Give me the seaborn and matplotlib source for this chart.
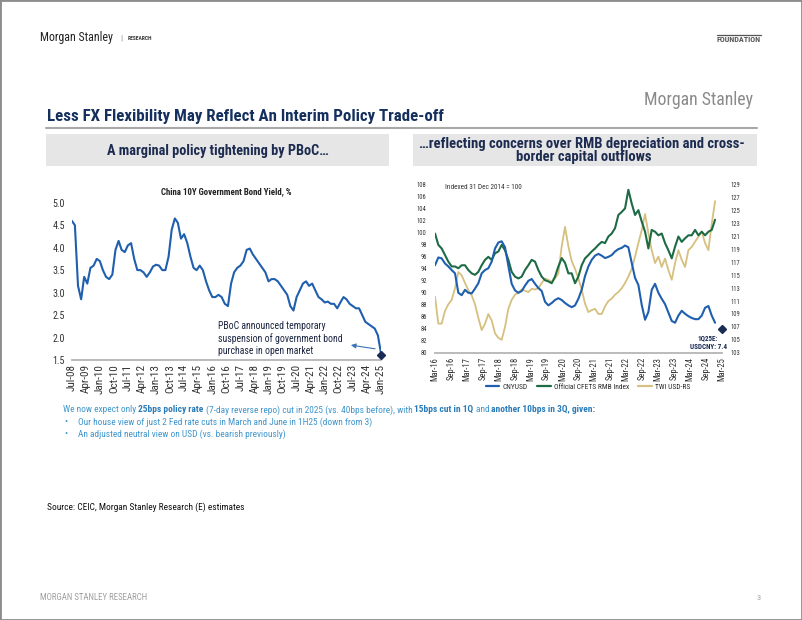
import pandas as pd
import numpy as np
import matplotlib.pyplot as plt
from matplotlib import font_manager
from matplotlib.lines import Line2D
from matplotlib.patches import Rectangle
import seaborn as sns

# -----------------------------
# Data
# -----------------------------

# China 10Y government bond yield, %, every 2 months from Jul-08 to Jan-25
cgb_start = "2008-07-01"
cgb_yield = [
    4.60, 4.50, 3.15, 2.85, 3.35, 3.20, 3.55, 3.60, 3.75, 3.70,
    3.50, 3.35, 3.30, 3.40, 3.95, 4.15, 3.95, 3.90, 4.05, 4.10,
    3.75, 3.50, 3.50, 3.45, 3.35, 3.45, 3.58, 3.62, 3.60, 3.50,
    3.50, 3.80, 4.40, 4.65, 4.55, 4.20, 4.30, 4.10, 3.80, 3.55,
    3.50, 3.60, 3.50, 3.25, 3.05, 2.90, 2.90, 2.95, 2.90, 2.75,
    2.70, 3.20, 3.45, 3.55, 3.60, 3.70, 3.95, 3.98, 3.85, 3.75,
    3.65, 3.55, 3.45, 3.25, 3.30, 3.30, 3.25, 3.15, 3.05, 2.95,
    2.70, 2.60, 2.90, 3.05, 3.20, 3.25, 3.15, 3.20, 3.05, 2.90,
    2.85, 2.78, 2.80, 2.75, 2.75, 2.65, 2.78, 2.90, 2.85, 2.75,
    2.70, 2.65, 2.65, 2.50, 2.35, 2.30, 2.25, 2.20, 2.05, 1.65,
]
cgb_end_date = "2025-01-01"
cgb_end_value = 1.62
cgb_ticks = pd.date_range("2008-07-01", "2025-01-01", freq="9MS")
cgb_yticks = [1.5, 2.0, 2.5, 3.0, 3.5, 4.0, 4.5, 5.0]

# Right chart: indexed 31 Dec 2014 = 100, evenly spaced readings
fx_start = "2016-03-01"
fx_end = "2024-12-15"
cnyusd = [
    94.6, 95.9, 95.75, 94.9, 94.4, 93.8, 93.25, 90.0, 89.6, 90.5,
    90.0, 89.9, 90.7, 91.6, 93.25, 93.8, 94.1, 95.2, 97.4, 98.4,
    98.6, 97.6, 94.5, 91.5, 90.4, 90.0, 90.3, 91.2, 92.0, 92.3,
    91.5, 90.8, 90.3, 88.5, 87.9, 88.3, 88.8, 89.1, 88.8, 88.3,
    87.9, 87.6, 87.9, 89.0, 90.5, 92.8, 94.4, 95.5, 96.2, 96.5,
    96.2, 95.8, 96.0, 96.3, 96.9, 97.3, 97.5, 97.9, 97.6, 95.0,
    92.5, 91.3, 88.0, 85.5, 86.8, 90.5, 91.5, 90.0, 89.0, 88.1,
    86.7, 85.3, 85.0, 86.2, 87.0, 86.5, 86.1, 85.8, 85.6, 85.6,
    86.2, 87.5, 87.8, 86.2, 85.0,
]
cfets = [
    99.9, 98.0, 97.4, 96.3, 95.2, 94.4, 94.4, 94.1, 94.6, 94.6,
    93.8, 93.25, 93.0, 93.5, 94.6, 95.5, 96.0, 95.5, 96.6, 96.9,
    98.0, 97.1, 95.5, 93.5, 92.7, 92.4, 92.7, 93.8, 94.6, 95.5,
    95.2, 93.8, 92.7, 92.1, 91.9, 91.6, 92.7, 94.4, 95.8, 95.0,
    93.25, 93.25, 91.6, 92.7, 94.6, 95.75, 96.3, 96.9, 97.4, 98.0,
    98.5, 98.3, 99.4, 99.9, 100.8, 103.0, 103.5, 104.1, 107.2, 104.9,
    103.0, 103.8, 101.9, 100.2, 97.4, 100.5, 100.2, 99.6, 99.9, 98.3,
    97.1, 95.75, 97.7, 99.4, 98.5, 99.1, 99.6, 99.6, 100.5, 99.6,
    100.2, 99.6, 100.2, 100.5, 102.2,
]
twi_usd = [
    111.7, 107.5, 107.5, 109.5, 110.5, 111.2, 113.0, 115.5, 115.0, 113.8,
    112.7, 111.9, 110.5, 108.4, 106.5, 107.5, 109.0, 108.0, 106.0, 105.3,
    105.0, 107.0, 109.8, 111.2, 112.0, 112.3, 112.8, 112.6, 112.4, 112.9,
    112.8, 113.0, 113.8, 114.5, 114.3, 114.0, 114.5, 115.3, 119.5, 122.5,
    119.5, 117.2, 116.0, 114.5, 112.8, 110.6, 109.3, 109.6, 109.8, 109.0,
    109.0, 110.2, 111.0, 111.4, 112.0, 112.4, 113.0, 113.8, 114.8, 116.0,
    117.9, 120.0, 122.0, 124.5, 121.5, 118.9, 116.9, 117.9, 116.3, 117.6,
    115.8, 114.3, 116.9, 118.9, 117.4, 116.3, 118.9, 119.4, 120.2, 121.0,
    121.8, 120.0, 118.9, 123.0, 126.5,
]
usdcny_forecast_date = "2025-03-01"
usdcny_forecast_index = 83.9
fx_ticks = pd.date_range("2016-03-01", "2025-03-01", freq="6MS")
left_yticks = list(range(80, 109, 2))
right_yticks = list(range(103, 130, 2))
legend_labels = ["CNYUSD", "Official CFETS RMB Index", "TWI USD-RS"]

# -----------------------------
# Style
# -----------------------------

W, H = 802, 620
sns.set_style("white")

# prefer a narrow face like the slide's, if one is installed
entries = font_manager.fontManager.ttflist
names = {f.name for f in entries}
narrow = None
for cand in ["Liberation Sans Narrow", "Roboto Condensed", "Open Sans Condensed"]:
    if cand in names:
        narrow = cand
        break
if narrow:
    FONT = [narrow, "DejaVu Sans"]
elif any(f.name == "DejaVu Sans" and "condensed" in str(f.stretch) for f in entries):
    FONT = ["DejaVu Sans"]
    plt.rcParams["font.stretch"] = "condensed"
else:
    FONT = ["Liberation Sans", "DejaVu Sans"]
plt.rcParams["font.family"] = FONT

NAVY = "#15305e"
BLUE = "#1f5fae"
GREEN = "#1d6b45"
TAN = "#d6c07f"
BODY = "#4095cc"
BODY_B = "#2a7bb8"
GRID = "#b5b5b5"
TICK = "#333333"


def fx_(x):
    return x / W


def fy_(y):
    return 1 - y / H


fig = plt.figure(figsize=(W / 100, H / 100), dpi=100)
R = fig.canvas.get_renderer()


def ink_width(s, size, weight="normal"):
    t = fig.text(0, 0, s, fontsize=size, fontweight=weight)
    w = t.get_window_extent(renderer=R).width
    t.remove()
    return w


def advance(s, size, weight="normal"):
    # pen advance of s, trailing spaces included
    return ink_width("|" + s + "|", size, weight) - ink_width("||", size, weight)


def size_for(s, target, weight="normal", base=10.0):
    # font size that makes the string s about target pixels wide
    return base * target / ink_width(s, base, weight)


def put(x, y, s, **kw):
    kw.setdefault("va", "center")
    return fig.text(fx_(x), fy_(y), s, **kw)


def rich_line(x, y, parts, target, normal_color, bold_color):
    base = 10.0
    total = sum(advance(txt, base, "bold" if b else "normal") for txt, b in parts)
    size = base * target / total
    for txt, bold in parts:
        w = "bold" if bold else "normal"
        put(x, y, txt, fontsize=size, color=bold_color if bold else normal_color, fontweight=w)
        x += advance(txt, size, w)
    return size


# slide frame
fig.patches.append(Rectangle((0, 0), 1, 1, transform=fig.transFigure,
                             fill=False, edgecolor="#8c8c8c", lw=2))

# page header
put(40, 38, "Morgan Stanley", fontsize=size_for("Morgan Stanley", 73), color="#222222")
put(121, 38, "|", fontsize=6, color="#888888", ha="center")
put(128, 38.5, "RESEARCH", fontsize=size_for("RESEARCH", 24, "bold"), color="#333333",
    fontweight="bold")
put(761, 39.5, "FOUNDATION", fontsize=size_for("FOUNDATION", 44, "bold"), color="#555555",
    fontweight="bold", ha="right")
fig.add_artist(Line2D([fx_(717), fx_(761)], [fy_(34.5)] * 2, color="#555555", lw=0.9))

put(753, 100, "Morgan Stanley", fontsize=size_for("Morgan Stanley", 109), color="#8a8a8a",
    ha="right")
title = "Less FX Flexibility May Reflect An Interim Policy Trade-off"
put(47, 117, title, fontsize=size_for(title, 396, "bold"), color=NAVY, fontweight="bold")
fig.add_artist(Line2D([fx_(46), fx_(757)], [fy_(128)] * 2, color="#a8a8a8", lw=1.5))

# section header boxes
for x0, x1 in [(46, 389), (413, 757)]:
    fig.patches.append(Rectangle((fx_(x0), fy_(166)), fx_(x1 - x0), 32 / H,
                                 transform=fig.transFigure, color="#e6e6e6", lw=0))
hdr_left = "A marginal policy tightening by PBoC…"
put(217.5, 151, hdr_left, fontsize=size_for(hdr_left, 223, "bold"),
    color="#1c2b4f", fontweight="bold", ha="center")
hdr_r1 = "…reflecting concerns over RMB depreciation and cross-"
hdr_size = size_for(hdr_r1, 325, "bold")
put(581.5, 144, hdr_r1, fontsize=hdr_size, color="#1c2b4f", fontweight="bold", ha="center")
put(584, 157, "border capital outflows", fontsize=hdr_size, color="#1c2b4f",
    fontweight="bold", ha="center")

# -----------------------------
# Left chart: China 10Y yield
# -----------------------------

ax = fig.add_axes([fx_(71.7), fy_(360), (381 - 71.7) / W, (360 - 202.7) / H])
cgb_dates = pd.date_range(cgb_start, periods=len(cgb_yield), freq="2MS")
sns.lineplot(x=cgb_dates, y=cgb_yield, ax=ax, color=BLUE, linewidth=1.5)
ax.plot([pd.Timestamp(cgb_end_date)], [cgb_end_value], marker="D", color="#1a2c55",
        markersize=4.5, clip_on=False, zorder=5)
ax.set_xlim(pd.Timestamp(cgb_start), pd.Timestamp("2025-01-01"))
ax.set_ylim(1.5, 5.0)
ax.set_yticks(cgb_yticks)
ax.set_yticklabels([f"{v:.1f}" for v in cgb_yticks])
ax.set_xticks(cgb_ticks)
ax.set_xticklabels([d.strftime("%b-%y") for d in cgb_ticks], rotation=90)
ax.tick_params(axis="x", length=0, labelsize=size_for("Jul-08", 27), labelcolor=TICK, pad=3)
ax.tick_params(axis="y", length=0, labelsize=size_for("5.0", 12.5), labelcolor=TICK, pad=5)
for s in ["top", "right", "left"]:
    ax.spines[s].set_visible(False)
ax.spines["bottom"].set_color(GRID)
ax.spines["bottom"].set_linewidth(1.3)
ax.set_xlabel("")
ax.set_ylabel("")
chart_title = "China 10Y Government Bond Yield, %"
ax.set_title(chart_title, fontsize=size_for(chart_title, 132, "bold"), fontweight="bold",
             color="#222222", pad=6)
ax.annotate("", xy=(pd.Timestamp("2023-04-01"), 1.84),
            xytext=(pd.Timestamp("2024-11-01"), 1.74),
            arrowprops=dict(arrowstyle="-|>", color="#3b74b8", lw=0.8,
                            mutation_scale=7))
note = "PBoC announced temporary\nsuspension of government bond\npurchase in open market"
ax.text(0.473, 0.137, note, transform=ax.transAxes,
        fontsize=size_for("suspension of government bond", 124), color="#1b2540",
        va="center", ha="left", linespacing=1.2)

# -----------------------------
# Right chart: FX indices
# -----------------------------

axr = fig.add_axes([fx_(435), fy_(352.7), (721.7 - 435) / W, (352.7 - 185) / H])
ax2 = axr.twinx()
axr.set_zorder(ax2.get_zorder() + 1)
axr.patch.set_visible(False)

sns.lineplot(x=pd.date_range(fx_start, fx_end, periods=len(twi_usd)), y=twi_usd,
             ax=ax2, color=TAN, linewidth=1.3)
sns.lineplot(x=pd.date_range(fx_start, fx_end, periods=len(cfets)), y=cfets,
             ax=axr, color=GREEN, linewidth=1.5)
sns.lineplot(x=pd.date_range(fx_start, fx_end, periods=len(cnyusd)), y=cnyusd,
             ax=axr, color=BLUE, linewidth=1.5)
axr.plot([pd.Timestamp(usdcny_forecast_date)], [usdcny_forecast_index], marker="D",
         color="#1a2c55", markersize=4.5, clip_on=False, zorder=6)

xmin, xmax = pd.Timestamp("2016-03-01"), pd.Timestamp("2025-03-01")
axr.set_xlim(xmin, xmax)
ax2.set_xlim(xmin, xmax)
axr.set_ylim(80, 108)
ax2.set_ylim(103, 129)
axr.set_yticks(left_yticks)
ax2.set_yticks(right_yticks)
axr.set_xticks(fx_ticks)
axr.set_xticklabels([d.strftime("%b-%y") for d in fx_ticks], rotation=90)
ylab = size_for("108", 9.5)
for a in (axr, ax2):
    a.tick_params(axis="y", length=0, labelsize=ylab, labelcolor=TICK, pad=6)
    for s in ["top", "right", "left", "bottom"]:
        a.spines[s].set_visible(False)
    a.set_xlabel("")
    a.set_ylabel("")
axr.tick_params(axis="x", length=0, labelsize=size_for("Mar-16", 24), labelcolor=TICK, pad=3)
axr.spines["bottom"].set_visible(True)
axr.spines["bottom"].set_color(GRID)
axr.spines["bottom"].set_linewidth(1.3)

small = size_for("Indexed 31 Dec 2014 = 100", 77)
axr.text(0.035, 0.985, "Indexed 31 Dec 2014 = 100", transform=axr.transAxes,
         fontsize=small, color=TICK, va="center")
fc_size = size_for("USDCNY: 7.4", 37, "bold")
put(708, 338.3, "1Q25E:", fontsize=fc_size, color="#1a2c55", fontweight="bold", ha="center")
put(708, 346.7, "USDCNY: 7.4", fontsize=fc_size, color="#1a2c55", fontweight="bold",
    ha="center")

handles = [Line2D([], [], color=BLUE, lw=1.6),
           Line2D([], [], color=GREEN, lw=1.6),
           Line2D([], [], color=TAN, lw=1.6)]
fig.legend(handles, legend_labels,
           loc="center", bbox_to_anchor=(fx_(588), fy_(387)), ncol=3, frameon=False,
           fontsize=size_for(legend_labels[1], 74), handlelength=1.9, handletextpad=0.45,
           columnspacing=1.2, borderpad=0)

# -----------------------------
# Commentary, source, footer
# -----------------------------

body_size = rich_line(63, 410, [("We now expect only ", False), ("25bps policy rate ", True),
                                ("(7-day reverse repo) cut in 2025 (vs. 40bps before), with ", False),
                                ("15bps cut in 1Q ", True), ("and ", False),
                                ("another 10bps in 3Q, given:", True)], 528, BODY, BODY_B)
put(64, 422, "•", fontsize=body_size, color=BODY)
put(78, 422, "Our house view of just 2 Fed rate cuts in March and June in 1H25 (down from 3)",
    fontsize=body_size, color=BODY)
put(64, 434, "•", fontsize=body_size, color=BODY)
put(78, 434, "An adjusted neutral view on USD (vs. bearish previously)", fontsize=body_size,
    color=BODY)

src = "Source: CEIC, Morgan Stanley Research (E) estimates"
put(47, 507, src, fontsize=size_for(src, 197), color="#111111")

put(40, 598, "MORGAN STANLEY RESEARCH", fontsize=size_for("MORGAN STANLEY RESEARCH", 108),
    color="#a0a0a0")
put(761, 598, "3", fontsize=6, color="#a0a0a0", ha="right")

fig.savefig("out.png", dpi=100)
